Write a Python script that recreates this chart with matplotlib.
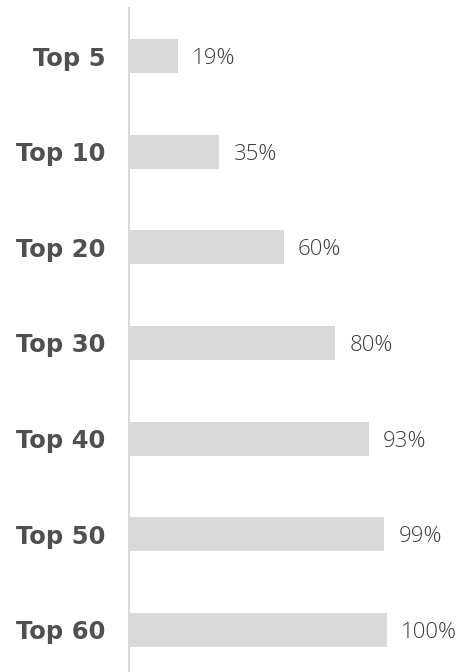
import matplotlib.pyplot as plt

categories = ["Top 5", "Top 10", "Top 20", "Top 30", "Top 40", "Top 50", "Top 60"]
values = [19, 35, 60, 80, 93, 99, 100]

fig = plt.figure(figsize=(4.61, 6.72), dpi=100)
ax = fig.add_axes([129 / 461, 0, 1 - 129 / 461, 1 - 8 / 672])

y = list(range(len(categories)))
ax.barh(y, values, height=0.355, color="#d9d9d9")

for yi, v in zip(y, values):
    ax.text(v + 5.5, yi, f"{v}%", va="center_baseline", ha="left", fontsize=16,
            family="Open Sans", fontweight="light", color="#3a3a3a")

ax.set_xlim(0, 128.7)
ax.set_ylim(6.44, -0.502)
ax.set_yticks(y)
ax.set_yticklabels(categories, fontsize=17.5, family="DejaVu Sans", fontweight="bold",
                   color="#505050")
ax.tick_params(axis="y", length=0, pad=17)
ax.set_xticks([])
for s in ["top", "right", "bottom"]:
    ax.spines[s].set_visible(False)
ax.spines["left"].set_color("#d9d9d9")
ax.spines["left"].set_linewidth(1.5)

fig.savefig("out.png", dpi=100)
